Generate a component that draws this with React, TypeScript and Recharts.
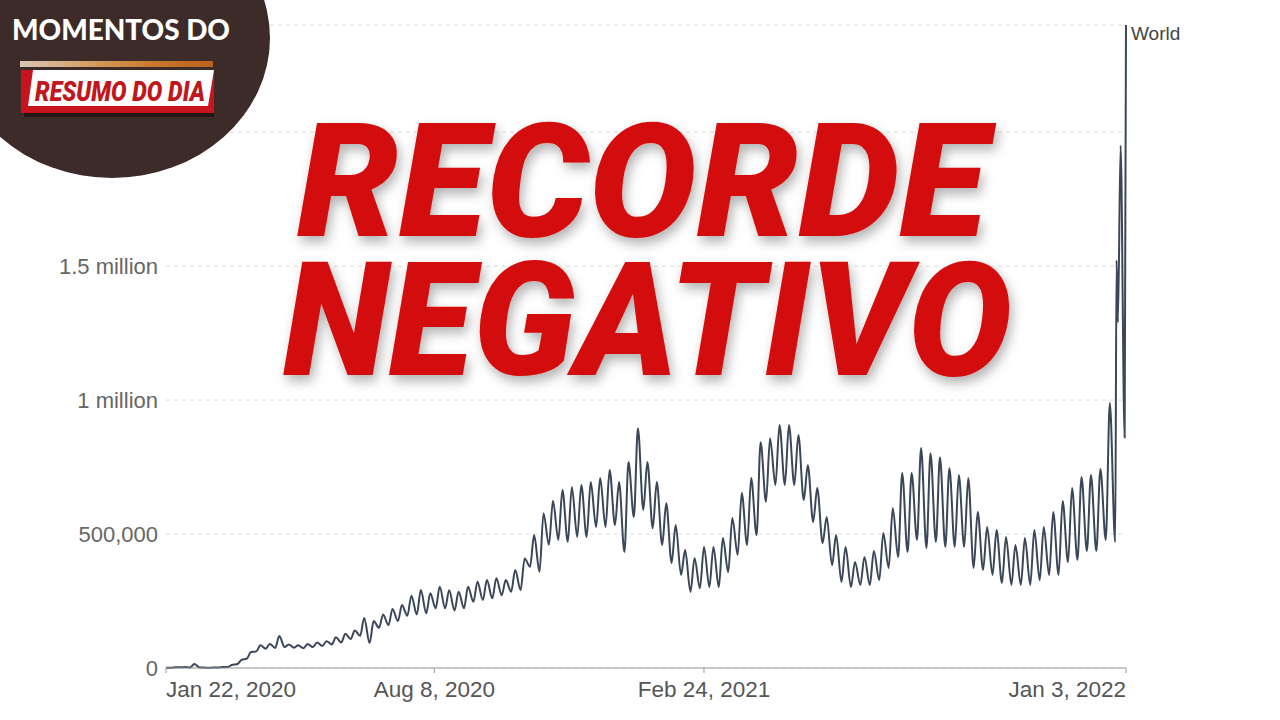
import { LineChart, Line, XAxis, YAxis, CartesianGrid } from "recharts";

// world daily new cases, thousands; one peak + one low per week since Jan 22, 2020
const weeklyPeaks = [
  0.6, 3, 3.5, 15, 2, 1.5, 4, 12, 30, 60,
  85, 90, 119, 88, 85, 90, 95, 100, 115, 128,
  140, 187, 175, 200, 220, 235, 270, 291, 279, 303,
  290, 285, 303, 322, 328, 335, 328, 366, 409, 496,
  577, 624, 664, 676, 683, 694, 709, 739, 694, 769,
  895, 769, 694, 615, 534, 440, 410, 452, 452, 485,
  560, 653, 709, 843, 858, 907, 907, 870, 757, 672,
  564, 496, 452, 396, 414, 437, 504, 597, 728, 728,
  821, 802, 787, 746, 720, 709, 582, 526, 515, 489,
  459, 485, 515, 526, 582, 623, 672, 713, 720, 743,
  989,
];

const weeklyLows = [
  0.5, 2.5, 2, 2, 0.5, 1.5, 4, 15, 35, 62,
  72, 75, 78, 76, 74, 78, 82, 88, 95, 108,
  120, 93, 150, 160, 175, 195, 200, 204, 223, 223,
  215, 223, 247, 254, 260, 272, 285, 291, 378, 359,
  460, 478, 471, 489, 489, 526, 526, 534, 433, 564,
  590, 522, 459, 392, 347, 284, 298, 302, 302, 358,
  422, 459, 496, 620, 683, 683, 683, 627, 545, 466,
  384, 321, 302, 310, 310, 328, 373, 414, 433, 478,
  448, 470, 452, 452, 452, 373, 366, 347, 317, 310,
  310, 310, 328, 347, 347, 395, 403, 437, 437, 478,
  470,
];

// last days of the series (Omicron spike)
const finalDays = [705, 706, 708, 711, 712];
const finalCases = [1522, 1290, 1950, 860, 2400];

const xTicks = [0, 199, 399, 712];
const xTickLabels = ["Jan 22, 2020", "Aug 8, 2020", "Feb 24, 2021", "Jan 3, 2022"];
const yTicks = [0, 500, 1000, 1500, 2000];
const yTickLabels = ["0", "500,000", "1 million", "1.5 million", "2 million"];

const data: { day: number; cases: number }[] = [];
weeklyPeaks.forEach((p, w) => {
  data.push({ day: w * 7, cases: p });
  data.push({ day: w * 7 + 4, cases: weeklyLows[w] });
});
finalDays.forEach((d, i) => data.push({ day: d, cases: finalCases[i] }));

const XTick = (props: any) => {
  const { x, y, index } = props;
  const anchor = index === 0 ? "start" : index === xTicks.length - 1 ? "end" : "middle";
  return (
    <text x={x} y={y} dy="0.71em" textAnchor={anchor} fontSize={22.5} fill="#555" fontFamily="Liberation Sans, Arial, sans-serif">
      {xTickLabels[index]}
    </text>
  );
};

const YTick = (props: any) => {
  const { x, y, index } = props;
  return (
    <text x={x} y={y} dy="0.355em" textAnchor="end" fontSize={22} fill="#666" fontFamily="Liberation Sans, Arial, sans-serif">
      {yTickLabels[index]}
    </text>
  );
};

const EndLabel = (props: any) => {
  const { x, y, index } = props;
  if (index !== data.length - 1) return null;
  return (
    <text x={x + 5} y={y + 15} fontSize={19} fill="#444" fontFamily="Liberation Sans, Arial, sans-serif">
      World
    </text>
  );
};

export default function App() {
  return (
    <div style={{ position: "absolute", left: 0, top: 0, width: 1280, height: 720, background: "#fff", overflow: "hidden" }}>
      <LineChart width={1280} height={720} data={data} margin={{ top: 25, right: 154, left: 0, bottom: 22 }}>
        <CartesianGrid vertical={false} stroke="#ddd" strokeDasharray="4 4" />
        <XAxis
          type="number"
          dataKey="day"
          domain={[0, 712]}
          ticks={xTicks}
          height={30}
          tick={<XTick />}
          tickSize={5}
          tickMargin={8}
          stroke="#999"
        />
        <YAxis
          type="number"
          domain={[0, 2400]}
          ticks={yTicks}
          width={166}
          tick={<YTick />}
          tickLine={false}
          axisLine={false}
          tickSize={0}
          tickMargin={8}
        />
        <Line
          type="monotone"
          dataKey="cases"
          stroke="#3a4759"
          strokeWidth={2}
          dot={false}
          label={<EndLabel />}
          isAnimationActive={false}
        />
      </LineChart>

      <svg width={1280} height={720} style={{ position: "absolute", left: 0, top: 0, pointerEvents: "none" }}>
        <defs>
          <filter id="titleShadow" x="-10%" y="-20%" width="120%" height="150%">
            <feDropShadow dx={3} dy={6} stdDeviation={6} floodColor="#000" floodOpacity={0.3} />
          </filter>
          <linearGradient id="goldBar" x1="0" y1="0" x2="1" y2="0">
            <stop offset="0%" stopColor="#d8c6b8" />
            <stop offset="40%" stopColor="#d49a5a" />
            <stop offset="70%" stopColor="#c9772c" />
            <stop offset="100%" stopColor="#b9611e" />
          </linearGradient>
        </defs>

        {/* logo */}
        <ellipse cx={112} cy={38} rx={158} ry={140} fill="#3c2b28" />
        <text x={12} y={40} fontFamily="Lato, sans-serif" fontWeight={900} fontSize={29} fill="#fff" textLength={218} lengthAdjust="spacingAndGlyphs">
          MOMENTOS DO
        </text>
        <rect x={20} y={61} width={193} height={6} fill="url(#goldBar)" />
        <rect x={24} y={112} width={190} height={5} fill="#241614" />
        <rect x={21} y={70} width={193} height={43} fill="#c8141c" />
        <polygon points="33,70 214,70 208,106 28,106" fill="#fff" />
        <text x={35} y={101} fontFamily="Roboto, sans-serif" fontWeight={900} fontStyle="italic" fontSize={27} fill="#c0161c" textLength={170} lengthAdjust="spacingAndGlyphs">
          RESUMO DO DIA
        </text>

        {/* headline */}
        <g filter="url(#titleShadow)">
          <text x={297} y={236} fontFamily="Roboto, sans-serif" fontWeight={900} fontStyle="italic" fontSize={160} fill="#d30c0c" textLength={690} lengthAdjust="spacingAndGlyphs">
            RECORDE
          </text>
          <text x={283} y={375} fontFamily="Roboto, sans-serif" fontWeight={900} fontStyle="italic" fontSize={160} fill="#d30c0c" textLength={729} lengthAdjust="spacingAndGlyphs">
            NEGATIVO
          </text>
        </g>
      </svg>
    </div>
  );
}
